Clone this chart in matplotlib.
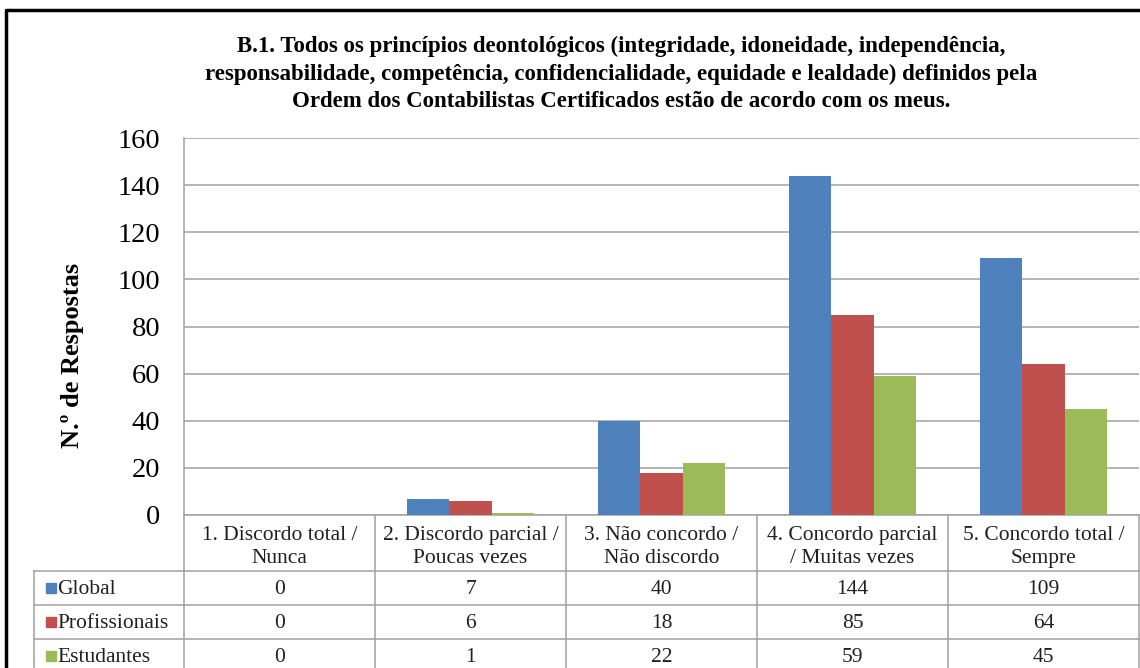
import numpy as np
import matplotlib
matplotlib.use("Agg")
import matplotlib.pyplot as plt
import matplotlib.transforms as mtransforms
from matplotlib.patches import Rectangle

categories = [
    "1. Discordo total /\nNunca",
    "2. Discordo parcial /\nPoucas vezes",
    "3. Não concordo /\nNão discordo",
    "4. Concordo parcial\n/ Muitas vezes",
    "5. Concordo total /\nSempre",
]
series_names = ["Global", "Profissionais", "Estudantes"]
global_vals = [0, 7, 40, 144, 109]
prof_vals = [0, 6, 18, 85, 64]
estud_vals = [0, 1, 22, 59, 45]
colors = ["#4F81BD", "#C0504D", "#9BBB59"]

title = ("B.1. Todos os princípios deontológicos (integridade, idoneidade, independência,\n"
         "responsabilidade, competência, confidencialidade, equidade e lealdade) definidos pela\n"
         "Ordem dos Contabilistas Certificados estão de acordo com os meus.")

plt.rcParams['font.family'] = ['Liberation Serif', 'DejaVu Serif']

W, H = 1140, 668
fig = plt.figure(figsize=(W / 100, H / 100), dpi=100)

# overlay in pixel coords (y down) for frame and table lines
ov = fig.add_axes([0, 0, 1, 1])
ov.set_xlim(0, W)
ov.set_ylim(H, 0)
ov.axis("off")

# bar axes
left, right, top, bottom = 184, 1139, 138, 515
ax = fig.add_axes([left / W, 1 - bottom / H, (right - left) / W, (bottom - top) / H])
ax.set_zorder(2)
ax.patch.set_alpha(0)

data = [global_vals, prof_vals, estud_vals]
x = np.arange(len(categories))
w = 1 / 4.5
for i, (vals, c) in enumerate(zip(data, colors)):
    ax.bar(x + (i - 1) * w, vals, width=w, color=c, edgecolor="none", zorder=3)

ax.set_xlim(-0.5, len(categories) - 0.5)
ax.set_ylim(0, 160)
ax.set_yticks(np.arange(0, 161, 20))
ax.tick_params(axis="y", length=0, labelsize=20.5, pad=17)
ax.set_xticks([])
ax.yaxis.grid(True, color="#A0A0A0", linewidth=1.1, zorder=0)
for s in ["top", "right"]:
    ax.spines[s].set_visible(False)
for s in ["left", "bottom"]:
    ax.spines[s].set_color("#A0A0A0")
    ax.spines[s].set_linewidth(1.1)

fig.text(72 / W, 1 - 355 / H, "N.º de Respostas", rotation=90, ha="center", va="center",
         fontsize=19, fontweight="bold")

fig.text(621 / W, 1 - 74 / H, title, ha="center", va="center", fontsize=16.5,
         fontweight="bold", linespacing=1.42)

# table below the plot, columns follow the bar axes x scale
tr = mtransforms.blended_transform_factory(ax.transData, ov.transData)
grid_c = "#A0A0A0"
leg_left = -0.5 - (184 - 34) / 191.0
rows_y = [515, 571, 605, 639, 673]
n = len(categories)
for k in range(n + 1):
    ov.plot([k - 0.5, k - 0.5], [515, H], color=grid_c, lw=1.1, transform=tr, clip_on=False)
ov.plot([leg_left, leg_left], [571, H], color=grid_c, lw=1.1, transform=tr, clip_on=False)
for yy in rows_y[1:4]:
    ov.plot([leg_left, n - 0.5], [yy, yy], color=grid_c, lw=1.1, transform=tr, clip_on=False)

fs_tab = 15.5
for k, cat in enumerate(categories):
    ov.text(k, 547, cat, ha="center", va="center", fontsize=fs_tab, transform=tr,
            linespacing=1.33, color="#202020")

for r, (name, vals, c) in enumerate(zip(series_names, data, colors)):
    yc = (rows_y[r + 1] + rows_y[r + 2]) / 2 + 2
    ov.add_patch(Rectangle((46, yc - 7), 10, 10, color=c))
    ov.text(57, yc, name, ha="left", va="center", fontsize=fs_tab, color="#202020")
    for k, v in enumerate(vals):
        ov.text(k, yc, str(v), ha="center", va="center", fontsize=fs_tab, transform=tr,
                color="#202020")

# outer black frame
ov.plot([6, 6, W + 5], [H + 5, 10, 10], color="black", lw=2.5, clip_on=False)

fig.savefig("out.png", dpi=100)
